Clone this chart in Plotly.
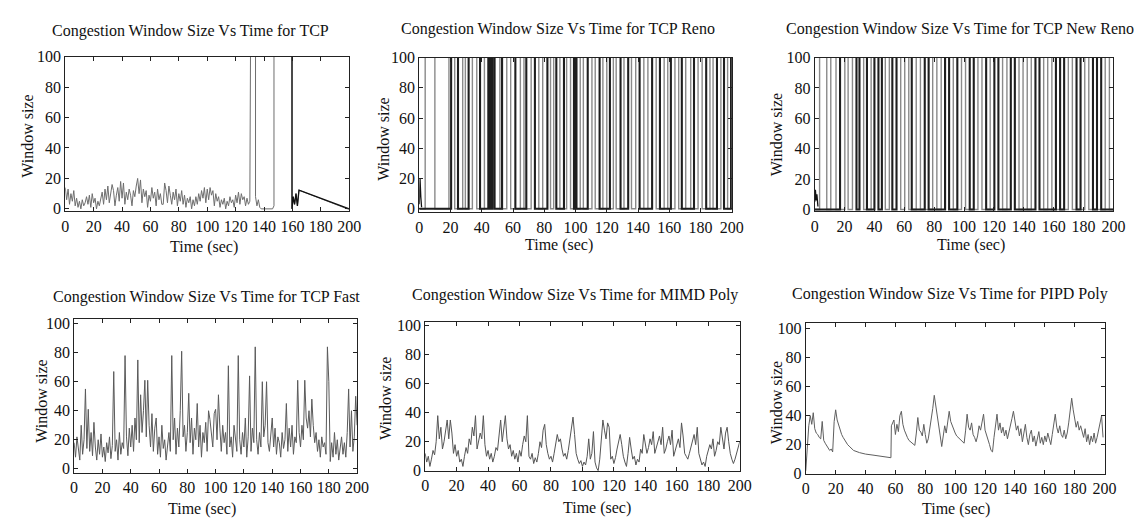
import plotly.graph_objects as go

W, H = 1148, 525
FONT = "'Liberation Serif', serif"

# ---------------- data ----------------
time_ticks = list(range(0, 201, 20))
win_ticks = list(range(0, 101, 20))

# TCP (Tahoe): dense part sampled each second, then excursions above 100 (clipped)
tcp_dense = [14, 6, 13, 3, 10, 5, 12, 2, 7, 1,
             5, 0, 6, 2, 4, 8, 3, 9, 1, 10,
             4, 7, 0, 5, 2, 8, 11, 3, 13, 6,
             15, 4, 10, 16, 12, 2, 9, 14, 5, 18,
             7, 17, 3, 11, 6, 13, 9, 2, 12, 8,
             15, 20, 10, 19, 4, 13, 8, 12, 1, 9,
             5, 14, 7, 11, 2, 13, 6, 10, 3, 3,
             17, 12, 4, 15, 9, 3, 11, 6, 13, 2,
             10, 5, 12, 3, 9, 1, 7, 4, 8, 0,
             6, 2, 8, 3, 10, 5, 12, 7, 14, 4,
             13, 6, 14, 9, 12, 2, 10, 5, 8, 1,
             6, 3, 7, 0, 5, 2, 8, 4, 6, 1,
             9, 4, 11, 3, 10, 6, 8, 2, 7, 3, 5]
tcp_tail_t = [130.6, 134.0, 134.0, 135, 136, 137, 138, 146, 147, 147, 159.7,
              159.7, 160.5, 161.5, 162.5, 163.5, 164.6, 198.6, 200]
tcp_tail_w = [130, 130, 8, 2, 6, 1, 0, 0, 2, 130, 130,
              0, 8, 3, 10, 2, 12.3, 0, 0]
tcp_t = list(range(len(tcp_dense))) + tcp_tail_t
tcp_w = tcp_dense + tcp_tail_w

# TCP Reno: times at which the window jumps past 100 or collapses
reno_start_t = [0, 0.5, 1.0, 1.5]
reno_start_w = [3, 20, 8, 1]
reno_dark = [20.4, 24.8, 31.6, 38.9, 44.2, 45.5, 46.8, 48.2, 53.0, 61.5, 68.5, 74.0,
             82.0, 87.7, 92.6, 99.0, 99.8, 100.6, 107.8, 115.4, 122.0, 128.8, 133.7,
             141.0, 149.0, 154.0, 161.0, 168.0, 175.8, 183.6, 190.5, 195.0, 199.5]
reno_light = [3.8, 10.0, 19.0, 22.7, 27.8, 29.5, 34.0, 36.8, 41.7, 51.6, 56.0, 58.5,
              64.7, 67.0, 71.6, 76.5, 79.0, 84.0, 86.0, 90.0, 94.3, 96.8, 103.0, 105.0,
              110.5, 112.6, 117.5, 120.0, 124.2, 126.0, 131.0, 135.8, 138.5, 143.7,
              146.3, 151.6, 156.7, 159.0, 163.6, 166.0, 170.5, 173.7, 178.4, 181.0,
              186.0, 188.0, 193.0, 197.3]

# TCP New Reno
nreno_start_t = [0, 0.5, 1.0, 1.5, 2.2]
nreno_start_w = [5, 13, 6, 10, 2]
nreno_dark = [17.0, 28.0, 30.0, 35.0, 40.0, 42.7, 45.0, 52.0, 54.8, 65.0, 73.7, 76.3,
              87.3, 90.0, 95.5, 103.8, 106.5, 114.8, 120.3, 123.0, 131.3, 134.0, 147.8,
              150.5, 161.5, 164.3, 167.0, 175.3, 178.0, 186.3, 189.0, 191.8]
nreno_light = [3.3, 8.1, 10.8, 14.3, 20.2, 22.4, 25.3, 32.8, 37.8, 47.3, 50.0, 57.6,
               60.3, 63.0, 68.0, 70.8, 79.0, 81.8, 84.7, 92.8, 98.3, 101.0, 109.3, 112.0,
               117.5, 125.8, 128.7, 136.8, 139.5, 142.3, 145.0, 153.3, 156.0, 158.8,
               169.8, 172.5, 180.8, 183.5, 194.5, 197.3]
W_LOW, W_HIGH = 0, 130

# TCP Fast (one value per second)
fast_w = [18, 8, 22, 12, 6, 30, 10, 20, 55, 14,
          41, 12, 25, 9, 32, 15, 6, 20, 10, 24,
          8, 15, 5, 18, 11, 22, 7, 16, 67, 12,
          20, 6, 25, 10, 18, 14, 78, 22, 9, 28,
          15, 30, 12, 35, 20, 75, 18, 51, 25, 40,
          61, 22, 61, 30, 15, 38, 12, 28, 35, 10,
          22, 8, 30, 14, 20, 6, 18, 25, 12, 78,
          20, 35, 10, 28, 15, 40, 81, 22, 30, 12,
          25, 52, 18, 35, 10, 28, 20, 45, 15, 30,
          8, 25, 18, 32, 12, 40, 34, 22, 15, 38,
          41, 20, 51, 28, 12, 30, 18, 25, 10, 71,
          15, 22, 8, 30, 18, 12, 78, 20, 10, 25,
          15, 35, 8, 22, 64, 12, 28, 18, 84, 20,
          10, 25, 15, 60, 22, 30, 60, 18, 12, 25,
          35, 15, 28, 10, 22, 18, 8, 25, 14, 20,
          45, 12, 28, 15, 30, 10, 22, 18, 61, 25,
          15, 30, 20, 61, 35, 28, 40, 22, 48, 30,
          18, 25, 12, 20, 8, 22, 15, 18, 10, 84,
          60, 5, 18, 8, 25, 10, 20, 6, 15, 22,
          10, 18, 8, 25, 55, 15, 40, 12, 22, 50, 30]

# MIMD Poly (one value per second)
mimd_w = [12, 6, 10, 3, 8, 14, 11, 20, 38, 22,
          30, 15, 20, 28, 35, 22, 35, 26, 12, 18,
          10, 14, 6, 8, 3, 10, 16, 12, 22, 18,
          30, 24, 38, 15, 20, 26, 22, 38, 18, 10,
          14, 8, 12, 6, 10, 16, 14, 24, 35, 20,
          30, 38, 22, 15, 18, 10, 14, 8, 12, 6,
          14, 10, 18, 24, 20, 38, 10, 8, 12, 5,
          9, 6, 12, 20, 16, 28, 32, 18, 12, 8,
          10, 6, 12, 18, 25, 20, 22, 15, 10, 12,
          8, 14, 22, 30, 37, 25, 12, 8, 5, 7,
          3, 6, 4, 10, 22, 8, 12, 27, 6, 2,
          0, 8, 20, 35, 28, 22, 33, 30, 8, 10,
          5, 9, 15, 20, 25, 18, 10, 6, 3, 12,
          23, 15, 8, 10, 4, 8, 6, 15, 12, 25,
          18, 12, 16, 22, 18, 27, 12, 16, 20, 24,
          18, 30, 12, 15, 20, 24, 18, 28, 10, 14,
          18, 22, 16, 33, 24, 12, 10, 8, 12, 16,
          20, 25, 18, 30, 12, 8, 4, 6, 3, 10,
          14, 18, 15, 22, 10, 14, 20, 18, 30, 22,
          15, 26, 30, 20, 12, 8, 5, 8, 12, 16, 20]

# PIPD Poly
pipd_early = [2, 20, 33, 40, 34, 42, 31, 28, 27, 25,
              24, 36, 23, 21, 19, 18, 16, 17, 15, 36,
              44, 37, 33, 30, 27, 25, 23, 21, 20, 19,
              18, 17, 16]
pipd_mid_t = [36, 40, 45, 50, 57, 57.3]
pipd_mid_w = [14.5, 13.5, 12.8, 12, 11, 33]
pipd_late = [37, 27, 34, 29, 40, 43, 34, 30, 27, 25, 23, 22,
             21, 20, 19.5, 28, 38.7, 30, 28.7, 26, 34, 27, 21, 24,
             30, 38, 45, 54, 46, 42, 30, 26, 18.7, 25, 33, 28,
             38, 43, 36, 33, 30, 28, 26, 25, 24, 23, 22, 21,
             30, 41, 32, 30, 35, 27, 25, 22, 26, 33, 30, 36,
             41, 30, 27, 24, 20, 16, 15, 25, 33, 41, 30, 35,
             28, 32, 26, 30, 24, 28, 33, 38, 43, 35, 30, 33,
             26, 31, 22, 28, 34, 25, 20, 27, 30, 22, 26, 19,
             24, 29, 21, 25, 20, 26, 22, 28, 24, 20, 27, 33,
             41, 32, 28, 33, 27, 25, 30, 24, 28, 35, 45, 52,
             44, 38, 32, 36, 30, 33, 28, 25, 31, 22, 27, 20,
             26, 22, 28, 21, 25, 30, 36, 40, 25]
pipd_t = list(range(len(pipd_early))) + pipd_mid_t + list(range(59, 59 + len(pipd_late)))
pipd_w = pipd_early + pipd_mid_w + pipd_late

titles = ["Congestion Window Size Vs Time for TCP",
          "Congestion Window Size Vs Time for TCP Reno",
          "Congestion Window Size Vs Time for TCP New Reno",
          "Congestion Window Size Vs Time for TCP Fast",
          "Congestion Window Size Vs Time for MIMD Poly",
          "Congestion Window Size Vs Time for PIPD Poly"]
x_label = "Time (sec)"
y_label = "Window size"

# ---------------- layout geometry (pixels) ----------------
# left, right, top, bottom, ymin, ymax
frames = [(54, 342, 42, 202, -1.7, 100),
          (413, 730, 43, 203, -2.4, 100),
          (814, 1117, 43, 202, -1.3, 100),
          (63, 350, 313, 472, -2.7, 103.3),
          (419, 738, 316, 470, 0, 102.7),
          (805, 1108, 317, 473, 0, 104)]
title_pos = [(181, 15), (554, 13), (961, 13), (197, 290), (571, 288), (951, 287)]
xlab_pos = [(195, 239), (555, 237), (973, 237), (193, 510), (593, 508), (957, 510)]
ylab_pos = [(16, 124), (377, 127), (775, 123), (30, 398), (378, 395), (775, 400)]


def step_xy(times, lo, hi):
    xs, ys, state = [0], [lo], lo
    for t in times:
        state = hi if state == lo else lo
        xs.append(t)
        ys.append(state)
    xs.append(200)
    ys.append(state)
    return xs, ys


fig = go.Figure()

def add(i, x, y, color, width, shape="linear"):
    fig.add_trace(go.Scatter(x=x, y=y, mode="lines", line=dict(color=color, width=width, shape=shape),
                             xaxis="x" if i == 0 else f"x{i+1}", yaxis="y" if i == 0 else f"y{i+1}",
                             showlegend=False, hoverinfo="skip"))

# Panel 1
add(0, tcp_t, tcp_w, "#6e6e6e", 1)
k = tcp_t.index(159.7)
add(0, tcp_t[k:], tcp_w[k:], "#111111", 1.3)
# Panel 2
xs, ys = step_xy(reno_light, W_LOW, W_HIGH)
add(1, xs, ys, "#8a8a8a", 1.4, "hv")
xs, ys = step_xy(reno_dark, W_LOW, W_HIGH)
add(1, xs, ys, "#1e1e1e", 2.1, "hv")
add(1, reno_start_t, reno_start_w, "#111111", 1.3)
# Panel 3
xs, ys = step_xy(nreno_light, W_LOW, W_HIGH)
add(2, xs, ys, "#8a8a8a", 1.4, "hv")
xs, ys = step_xy(nreno_dark, W_LOW, W_HIGH)
add(2, xs, ys, "#1e1e1e", 2.1, "hv")
add(2, nreno_start_t, nreno_start_w, "#111111", 1.3)
# Panel 4
add(3, list(range(len(fast_w))), fast_w, "#5a5a5a", 1)
# Panel 5
add(4, list(range(len(mimd_w))), mimd_w, "#555555", 1)
# Panel 6
add(5, pipd_t, pipd_w, "#5f5f5f", 1)

axis_common = dict(showline=True, mirror="ticks", linecolor="#222222", linewidth=1,
                   ticks="inside", ticklen=4, tickcolor="#222222", showgrid=False,
                   zeroline=False, tickfont=dict(family=FONT, size=16, color="#111111"))
layout = {}
for i, (l, r, t, b, y0, y1) in enumerate(frames):
    sx = "" if i == 0 else str(i + 1)
    layout[f"xaxis{sx}"] = dict(domain=[l / W, r / W], range=[0, 200], tickvals=time_ticks,
                                anchor=f"y{sx}", **axis_common)
    layout[f"yaxis{sx}"] = dict(domain=[1 - b / H, 1 - t / H], range=[y0, y1], tickvals=win_ticks,
                                anchor=f"x{sx}", **axis_common)

ann = []
for (x, y), txt in zip(title_pos, titles):
    ann.append(dict(x=x / W, y=1 - y / H, xref="paper", yref="paper", text=txt, showarrow=False,
                    font=dict(family=FONT, size=16, color="#111111"), xanchor="center", yanchor="middle"))
for (x, y) in xlab_pos:
    ann.append(dict(x=x / W, y=1 - y / H, xref="paper", yref="paper", text=x_label, showarrow=False,
                    font=dict(family=FONT, size=16, color="#111111"), xanchor="center", yanchor="middle"))
for (x, y) in ylab_pos:
    ann.append(dict(x=x / W, y=1 - y / H, xref="paper", yref="paper", text=y_label, showarrow=False,
                    textangle=-90, font=dict(family=FONT, size=16, color="#111111"),
                    xanchor="center", yanchor="middle"))

fig.update_layout(width=W, height=H, margin=dict(l=0, r=0, t=0, b=0),
                  font=dict(family=FONT),
                  paper_bgcolor="white", plot_bgcolor="white", annotations=ann, **layout)
fig.write_html("out.html")
